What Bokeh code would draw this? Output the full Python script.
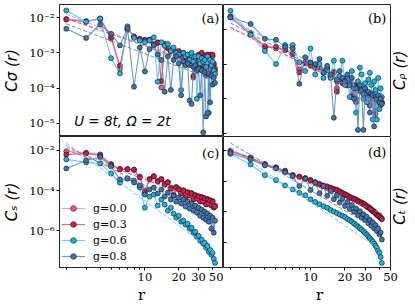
import math
import numpy as np
from bokeh.plotting import figure
from bokeh.layouts import column, row
from bokeh.models import (FixedTicker, CustomJSTickFormatter, LogAxis, Label, Span,
                          Legend, LegendItem, Range1d)
from bokeh.embed import file_html
from bokeh.resources import INLINE

# ---------------- data (log10 of the correlation values) ----
r = [2, 3, 4, 5, 6, 7, 8, 9, 10, 11, 12, 13, 14, 15, 16, 17, 18, 19, 20, 21, 22,
     23, 24, 25, 26, 27, 28, 29, 30, 31, 32, 33, 34, 35, 36, 37, 38, 39, 40, 41, 42]
fit_r = [2, 42]
g_labels = ["g=0.0", "g=0.3", "g=0.6", "g=0.8"]

# panel (a)  C_sigma(r)
a_g00 = [-2.04, -2.10, -2.05, -2.60, -3.45, -2.35, -2.55, -2.62, -2.63, -2.65, -2.78, -2.70, -3.98, -2.78,
         -2.88, -2.93, -2.92, -3.08, -2.98, -3.12, -3.02, -3.18, -3.08, -3.35, -3.12, -3.70, -3.18, -3.28,
         -3.08, -3.35, -3.02, -3.38, -3.12, -3.65, -3.08, -3.45, -3.08, -3.55, -3.10, -3.35, -3.50]
a_g03 = [-2.06, -2.12, -2.03, -2.55, -3.36, -2.33, -2.53, -2.60, -2.65, -2.62, -2.75, -2.72, -3.80, -2.75,
         -2.85, -2.95, -2.90, -3.05, -2.95, -3.10, -3.00, -3.15, -3.05, -3.30, -3.10, -3.65, -3.15, -3.25,
         -3.05, -3.30, -3.00, -3.35, -3.10, -3.60, -3.05, -3.40, -3.05, -3.50, -3.05, -3.30, -3.45]
a_g06 = [-1.80, -2.12, -2.03, -3.15, -3.58, -2.25, -2.58, -2.65, -2.70, -2.65, -2.56, -3.82, -2.70, -2.80,
         -2.75, -2.95, -2.85, -3.00, -3.05, -4.05, -3.00, -3.10, -3.05, -3.20, -3.00, -3.25, -3.10, -4.30,
         -3.10, -3.30, -3.15, -3.25, -3.20, -3.40, -3.10, -4.70, -3.20, -3.35, -3.25, -3.50, -3.60]
a_g08 = [-2.32, -2.58, -2.20, -2.46, -2.79, -2.30, -3.96, -2.85, -3.53, -2.90, -2.78, -3.05, -3.20, -4.10,
         -3.10, -4.05, -3.20, -3.10, -3.30, -4.20, -3.25, -3.35, -3.30, -4.35, -4.45, -3.40, -3.35, -3.50,
         -3.45, -4.20, -3.50, -5.25, -3.55, -4.80, -4.70, -3.60, -4.40, -3.65, -3.90, -3.70, -3.85]
a_fit = [[-2.01, -3.47], [-2.03, -3.50], [-1.90, -3.61], [-2.18, -3.78]]

# panel (b)  C_rho(r)
b_g00 = [-1.62, -2.10, -2.48, -2.55, -2.58, -2.72, -3.15, -2.98, -3.02, -3.12, -3.08, -3.25, -3.18, -3.38,
         -3.22, -3.70, -3.38, -3.50, -3.48, -3.62, -3.52, -3.90, -3.62, -4.00, -3.68, -3.78, -3.72, -3.88,
         -3.82, -3.92, -3.88, -4.15, -3.92, -4.02, -3.98, -4.35, -4.02, -4.12, -4.08, -4.18, -4.12]
b_g03 = [-1.65, -2.14, -2.52, -2.50, -2.60, -2.70, -3.24, -2.95, -3.05, -3.10, -3.10, -3.20, -3.15, -3.35,
         -3.25, -3.80, -3.35, -3.55, -3.45, -3.60, -3.55, -3.95, -3.60, -4.10, -3.65, -3.75, -3.70, -3.85,
         -3.80, -3.90, -3.85, -4.20, -3.90, -4.00, -3.95, -4.45, -4.00, -4.10, -4.05, -4.15, -4.10]
b_g06 = [-1.46, -2.16, -2.62, -3.00, -2.45, -2.45, -2.95, -3.20, -2.55, -3.30, -3.00, -3.40, -3.10, -3.40,
         -2.90, -3.50, -3.35, -2.90, -3.60, -3.35, -3.95, -3.20, -3.70, -4.40, -3.50, -3.10, -3.30, -4.00,
         -3.55, -4.10, -3.45, -3.25, -3.60, -4.60, -3.50, -3.75, -4.60, -3.40, -4.30, -3.70, -3.95]
b_g08 = [-1.65, -1.84, -2.27, -2.30, -2.50, -2.55, -3.57, -2.80, -2.95, -3.00, -2.85, -3.25, -3.05, -3.30,
         -4.55, -3.45, -3.20, -3.40, -3.50, -3.30, -3.60, -3.40, -4.00, -3.70, -4.90, -3.60, -3.75, -4.90,
         -3.70, -3.85, -3.80, -4.40, -3.85, -3.90, -4.80, -3.95, -4.00, -3.90, -4.10, -4.00, -4.15]
b_fit = [[-1.93, -4.10], [-1.95, -4.12], [-1.71, -4.05], [-1.81, -4.14]]

# panel (c)  C_s(r)
c_g00 = [-2.05, -2.12, -2.20, -2.68, -2.92, -2.92, -2.98, -3.30, -4.00, -3.42, -3.28, -3.52, -3.42, -3.68,
         -3.58, -3.85, -4.20, -3.82, -3.92, -4.12, -3.98, -4.30, -4.08, -4.22, -4.12, -4.42, -4.22, -4.38,
         -4.28, -4.52, -4.32, -4.52, -4.38, -4.65, -4.42, -4.62, -4.48, -4.72, -4.52, -4.80, -4.75]
c_g03 = [-2.21, -2.15, -2.25, -2.72, -2.95, -2.95, -2.95, -3.35, -4.10, -3.45, -3.30, -3.55, -3.45, -3.70,
         -3.60, -3.90, -4.25, -3.85, -3.95, -4.15, -4.00, -4.35, -4.10, -4.25, -4.15, -4.45, -4.25, -4.40,
         -4.30, -4.55, -4.35, -4.55, -4.40, -4.70, -4.45, -4.65, -4.50, -4.75, -4.55, -4.85, -4.80]
c_g06 = [-2.45, -2.60, -2.65, -3.15, -3.61, -3.40, -3.50, -3.85, -4.85, -4.30, -4.20, -4.75, -4.45, -4.70,
         -5.00, -4.85, -5.15, -5.35, -5.25, -5.55, -5.50, -5.70, -5.65, -5.90, -5.85, -6.10, -6.05, -6.30,
         -6.25, -6.50, -6.45, -6.65, -6.60, -6.85, -6.75, -7.05, -6.95, -7.20, -7.10, -7.40, -7.60]
c_g08 = [-2.90, -2.50, -2.33, -2.80, -3.45, -3.40, -3.60, -3.75, -4.20, -3.95, -3.85, -4.15, -3.95, -4.30,
         -4.10, -4.45, -4.25, -4.55, -4.35, -4.65, -4.45, -4.80, -4.55, -4.90, -4.65, -5.00, -4.75, -5.10,
         -4.85, -5.25, -4.95, -5.35, -5.05, -5.45, -5.15, -5.55, -5.25, -5.90, -5.35, -6.10, -5.50]
c_fit = [[-1.88, -4.68], [-1.97, -4.77], [-1.64, -7.07], [-1.77, -5.51]]

# panel (d)  C_t(r)
d_g00 = [-1.01, -1.23, -1.44, -1.55, -1.66, -1.80, -1.85, -1.90, -1.96, -2.03, -2.09, -2.14, -2.17, -2.21,
         -2.25, -2.28, -2.33, -2.38, -2.42, -2.46, -2.51, -2.54, -2.57, -2.60, -2.64, -2.67, -2.70, -2.73,
         -2.76, -2.81, -2.84, -2.88, -2.92, -2.96, -2.99, -3.03, -3.08, -3.11, -3.14, -3.18, -3.22]
d_g03 = [-1.03, -1.25, -1.46, -1.57, -1.68, -1.82, -1.87, -1.92, -1.98, -2.05, -2.11, -2.16, -2.19, -2.23,
         -2.27, -2.30, -2.35, -2.40, -2.44, -2.48, -2.53, -2.56, -2.59, -2.62, -2.66, -2.69, -2.72, -2.75,
         -2.78, -2.83, -2.86, -2.90, -2.94, -2.98, -3.01, -3.05, -3.10, -3.13, -3.16, -3.20, -3.24]
d_g06 = [-1.11, -1.46, -1.81, -1.97, -2.14, -2.27, -2.38, -2.46, -2.59, -2.68, -2.75, -2.82, -2.87, -2.94,
         -2.99, -3.04, -3.09, -3.13, -3.17, -3.23, -3.27, -3.32, -3.38, -3.43, -3.48, -3.53, -3.58, -3.63,
         -3.69, -3.74, -3.80, -3.85, -3.91, -3.97, -4.03, -4.10, -4.17, -4.26, -4.34, -4.47, -4.66]
d_g08 = [-1.09, -1.30, -1.49, -1.59, -1.71, -1.84, -2.16, -1.92, -2.29, -2.05, -2.40, -2.16, -2.48, -2.32,
         -2.59, -2.46, -2.70, -2.57, -2.81, -2.68, -2.91, -2.78, -3.00, -2.89, -3.11, -2.98, -3.19, -3.08,
         -3.27, -3.16, -3.37, -3.26, -3.45, -3.34, -3.54, -3.43, -3.62, -3.54, -3.73, -3.67, -3.90]
d_fit = [[-0.98, -3.04], [-1.00, -3.06], [-0.92, -4.26], [-0.76, -3.67]]

x_ticks = [10, 20, 30, 50]
x_minor = [2, 3, 4, 5, 6, 7, 8, 9, 40]

# ---------------- styling / layout ----------------
marker_colors = ["#ee5a7e", "#cf1a4c", "#1cb5ea", "#3b76b3"]
line_colors = ["#f08aa2", "#d84a70", "#4cc6ef", "#4f86bf"]
EDGE = "#262626"
SERIF = "DejaVu Serif"
SANS = "DejaVu Sans"
FRAME_W = 167
FRAME_H = 132
LEFT_B = 56
RIGHT_B = 25
TOP_B = 4
BOTTOM_B = 38
X_LO, X_HI = 1.74, 50.0
# right-column frames also cover the right margin (so the rotated y label is not clipped);
# the x range is widened so that 1.74..50 still spans exactly FRAME_W pixels
X_HI_EXT = 10 ** (math.log10(X_LO) + math.log10(X_HI / X_LO) * (FRAME_W + RIGHT_B) / FRAME_W)
X_LABEL_POS = 10 ** (math.log10(X_HI) + math.log10(X_HI / X_LO) * 9 / FRAME_W)

sup_fmt = CustomJSTickFormatter(code="""
const e = Math.round(Math.log10(tick));
const s = {'-':'\u207b','0':'\u2070','1':'\u00b9','2':'\u00b2','3':'\u00b3','4':'\u2074',
           '5':'\u2075','6':'\u2076','7':'\u2077','8':'\u2078','9':'\u2079'};
return '10' + String(e).split('').map(c => s[c]).join('');
""")
empty_fmt = CustomJSTickFormatter(code="return '';")
int_fmt = CustomJSTickFormatter(code="return String(Math.round(tick));")


def make_fig(width, height, ylo, yhi, yticks, left, right, top, bottom, xhi=X_HI):
    p = figure(width=width, height=height, x_axis_type="log", y_axis_type="log",
               x_range=Range1d(X_LO, xhi), y_range=Range1d(10 ** ylo, 10 ** yhi),
               output_backend="svg", toolbar_location=None,
               min_border_left=left, min_border_right=right,
               min_border_top=top, min_border_bottom=bottom)
    p.grid.visible = False
    p.outline_line_color = EDGE
    p.outline_line_width = 1
    p.background_fill_color = "white"
    p.border_fill_color = "white"
    p.yaxis.ticker = FixedTicker(ticks=yticks, minor_ticks=[])
    p.yaxis.major_tick_out = 3
    p.yaxis.major_tick_in = 0
    p.yaxis.minor_tick_line_color = None
    p.yaxis.axis_line_color = EDGE
    p.xaxis.ticker = FixedTicker(ticks=x_ticks, minor_ticks=x_minor)
    p.xaxis.formatter = int_fmt
    p.xaxis.major_tick_out = 3
    p.xaxis.major_tick_in = 0
    p.xaxis.minor_tick_out = 2
    p.xaxis.minor_tick_in = 0
    p.xaxis.axis_line_color = EDGE
    for ax in (p.xaxis, p.yaxis):
        ax.major_label_text_font = SERIF
        ax.major_label_text_font_size = "11.5px"
        ax.major_label_text_color = "black"
        ax.major_label_standoff = 2
        ax.axis_label_text_color = "black"
    return p


def add_series(p, vals_list, fits):
    items = []
    for i, vals in enumerate(vals_list):
        y = [10 ** v for v in vals]
        lr = p.line(r, y, line_color=line_colors[i], line_width=1.1, line_alpha=0.85)
        sr = p.scatter(r, y, size=5, marker="circle", fill_color=marker_colors[i],
                       line_color="#111111", line_width=0.6)
        p.line(fit_r, [10 ** v for v in fits[i]], line_color=line_colors[i],
               line_dash="4 2", line_width=1, line_alpha=0.9)
        items.append((lr, sr))
    return items


def left_label(p, text):
    p.yaxis.axis_label = text
    p.yaxis.axis_label_text_font = SANS
    p.yaxis.axis_label_text_font_style = "italic"
    p.yaxis.axis_label_text_font_size = "15px"
    p.yaxis.axis_label_text_color = "black"
    p.yaxis.axis_label_standoff = 5


def x_label(p):
    ax = p.below[0]
    ax.axis_label = "r"
    ax.axis_label_text_font = SERIF
    ax.axis_label_text_font_style = "normal"
    ax.axis_label_text_font_size = "15px"
    ax.axis_label_text_color = "black"
    ax.axis_label_standoff = 2


def right_column(p, text, ymid, has_xlabels):
    p.outline_line_color = None
    # left axis: ticks only, no labels
    p.yaxis.formatter = empty_fmt
    p.yaxis.major_tick_out = 0
    p.yaxis.major_tick_in = 3
    p.yaxis.major_label_standoff = 0
    # frame edges limited to 1.74..50
    p.xaxis.bounds = (X_LO, X_HI)
    if not has_xlabels:
        p.xaxis.ticker = FixedTicker(ticks=[], minor_ticks=[])
        p.xaxis.formatter = empty_fmt
        p.xaxis.major_label_standoff = 0
        p.xaxis.major_tick_out = 0
        p.xaxis.minor_tick_out = 0
    top = LogAxis(bounds=(X_LO, X_HI), ticker=FixedTicker(ticks=[], minor_ticks=[]),
                  formatter=empty_fmt, major_tick_line_color=None, minor_tick_line_color=None,
                  major_label_standoff=0, axis_line_color=EDGE)
    p.add_layout(top, "above")
    p.add_layout(Span(location=X_HI, dimension="height", line_color=EDGE, line_width=1))
    p.add_layout(Label(x=X_LABEL_POS, y=ymid, text=text, angle=math.pi / 2,
                       text_align="center", text_baseline="middle",
                       text_font=SANS, text_font_style="italic", text_font_size="15px",
                       text_color="black"))


def panel_tag(p, text, y):
    p.add_layout(Label(x=46, y=y, text=text, text_align="right", text_baseline="top",
                       text_font=SERIF, text_font_size="13px", text_color="black"))


# (a)
pa = make_fig(LEFT_B + FRAME_W, FRAME_H + TOP_B, -5.368, -1.632, [1e-2, 1e-3, 1e-4, 1e-5], LEFT_B, 0, TOP_B, 0)
pa.xaxis.visible = False
pa.yaxis.formatter = sup_fmt
left_label(pa, "C\u03c3 (r)")
add_series(pa, [a_g00, a_g03, a_g06, a_g08], a_fit)
panel_tag(pa, "(a)", 1.48e-2)
pa.add_layout(Label(x=2.35, y=1.15e-5, text="U = 8t, \u03a9 = 2t", text_font=SANS,
                    text_font_style="italic", text_font_size="13.5px", text_baseline="alphabetic",
                    text_color="black"))

# (b)
pb = make_fig(FRAME_W + RIGHT_B, FRAME_H + TOP_B, -5.09, -1.28, [1e-2, 1e-3, 1e-4, 1e-5], 0, 0, TOP_B, 0,
              xhi=X_HI_EXT)
right_column(pb, "C\u1d68 (r)", 10 ** -3.18, False)
add_series(pb, [b_g00, b_g03, b_g06, b_g08], b_fit)
panel_tag(pb, "(b)", 3.3e-2)

# (c)
pc = make_fig(LEFT_B + FRAME_W, FRAME_H + BOTTOM_B, -7.83, -1.31, [1e-2, 1e-4, 1e-6], LEFT_B, 0, 0, BOTTOM_B)
pc.yaxis.formatter = sup_fmt
left_label(pc, "C\u209b (r)")
x_label(pc)
items_c = add_series(pc, [c_g00, c_g03, c_g06, c_g08], c_fit)
panel_tag(pc, "(c)", 1.58e-2)
legend = Legend(items=[LegendItem(label=g_labels[i], renderers=list(items_c[i])) for i in range(4)],
                location=(2, 4), orientation="vertical", spacing=2, padding=2, margin=0,
                glyph_width=24, glyph_height=14, label_height=14, label_standoff=8,
                label_text_font=SERIF, label_text_font_size="11px", label_text_color="black",
                border_line_color=None, background_fill_alpha=0)
pc.add_layout(legend, "center")

# (d)
pd = make_fig(FRAME_W + RIGHT_B, FRAME_H + BOTTOM_B, -4.81, -0.55, [1e-1, 1e-2, 1e-3, 1e-4], 0, 0, 0, BOTTOM_B,
              xhi=X_HI_EXT)
right_column(pd, "C\u209c (r)", 10 ** -2.81, True)
x_label(pd)
add_series(pd, [d_g00, d_g03, d_g06, d_g08], d_fit)
panel_tag(pd, "(d)", 0.145)

layout = column(row(pa, pb, spacing=0), row(pc, pd, spacing=0), spacing=0)

with open("out.html", "w", encoding="utf-8") as f:
    f.write(file_html(layout, INLINE))
